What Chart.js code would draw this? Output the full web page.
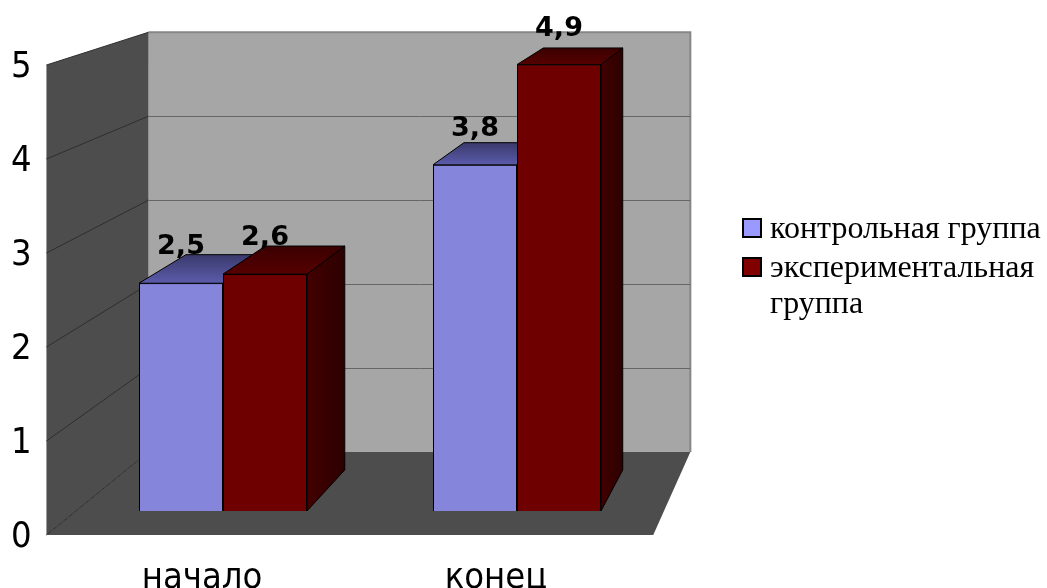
<!DOCTYPE html>
<html>
<head>
<meta charset="utf-8">
<script src="https://cdn.jsdelivr.net/npm/chart.js@4"></script>
<style>
  html, body { margin: 0; padding: 0; background: #fff; overflow: hidden; }
  canvas { display: block; }
</style>
</head>
<body>
<canvas id="scoreChart" width="1047" height="588"></canvas>
<script>
const categories = ['начало', 'конец'];
const controlGroup = [2.5, 3.8];
const experimentalGroup = [2.6, 4.9];
const seriesNames = ['контрольная группа', ['экспериментальная', 'группа']];
const yTicks = [0, 1, 2, 3, 4, 5];

// perspective box: everything shrinks toward VP as it goes deeper
const VP = { x: 1000, y: -241 };
const BAR_FRONT = 0.969;   // bar front faces vs. front edge of the floor
const BAR_DEPTH = 0.9455;  // bar back faces vs. bar front faces
const WALL_BACK = 0.893;   // back wall vs. front edge of the floor
const AREA = { top: 65, bottom: 535, left: 76, right: 664 };
const W = 1047, H = 588;
const LABEL_X = 11;

// the bars stand on a recessed plane, so their axis is a scaled copy of the front one
const yMax = yTicks[yTicks.length - 1];
const areaH = AREA.bottom - AREA.top;
const barMin = yMax * (1 - BAR_FRONT) * (VP.y - AREA.bottom) / (BAR_FRONT * areaH);
const barMax = barMin + yMax / BAR_FRONT;

const axisFont = { family: '"DejaVu Sans Condensed", "DejaVu Sans"', size: 36 };

const faceColors = [
    { top: ['#5b5bab', '#3a3a6c'], side: ['#50508e', '#393965'] },
    { top: ['#560000', '#3a0000'], side: ['#430000', '#2c0000'] }
];

function proj(x, y, s) {
    return { x: VP.x + (x - VP.x) * s, y: VP.y + (y - VP.y) * s };
}

function poly(ctx, pts) {
    ctx.beginPath();
    ctx.moveTo(pts[0].x, pts[0].y);
    for (let i = 1; i < pts.length; i++) ctx.lineTo(pts[i].x, pts[i].y);
    ctx.closePath();
}

const box3d = {
    id: 'box3d',
    beforeDatasetsDraw(chart) {
        const ctx = chart.ctx;
        const area = chart.chartArea;
        const y = chart.scales.y;
        const fl = VP.x + (area.left - VP.x) / BAR_FRONT;
        const fr = VP.x + (area.right - VP.x) / BAR_FRONT;
        const y0 = y.getPixelForValue(0);
        const yTop = y.getPixelForValue(yMax);

        ctx.save();
        // back wall
        const bTL = proj(fl, yTop, WALL_BACK);
        const bBR = proj(fr, y0, WALL_BACK);
        ctx.fillStyle = '#a6a6a6';
        ctx.fillRect(bTL.x, bTL.y, bBR.x - bTL.x, bBR.y - bTL.y);
        ctx.strokeStyle = '#868686';
        ctx.lineWidth = 2;
        ctx.beginPath();
        ctx.moveTo(bTL.x, bTL.y);
        ctx.lineTo(bBR.x, bTL.y);
        ctx.lineTo(bBR.x, bBR.y);
        ctx.stroke();

        // left wall and floor
        ctx.fillStyle = '#4d4d4d';
        poly(ctx, [{ x: fl, y: y0 }, { x: fl, y: yTop }, proj(fl, yTop, WALL_BACK), proj(fl, y0, WALL_BACK)]);
        ctx.fill();
        poly(ctx, [{ x: fl, y: y0 }, { x: fr, y: y0 }, proj(fr, y0, WALL_BACK), proj(fl, y0, WALL_BACK)]);
        ctx.fill();

        // gridlines
        ctx.lineWidth = 1;
        yTicks.forEach(v => {
            const py = y.getPixelForValue(v);
            const back = proj(fl, py, WALL_BACK);
            ctx.strokeStyle = '#2e2e2e';
            ctx.beginPath();
            ctx.moveTo(fl, py);
            ctx.lineTo(back.x, back.y);
            ctx.stroke();
            if (v > 0 && v < yMax) {
                const right = proj(fr, py, WALL_BACK);
                ctx.strokeStyle = '#666';
                ctx.beginPath();
                ctx.moveTo(back.x, Math.round(back.y) + 0.5);
                ctx.lineTo(right.x, Math.round(back.y) + 0.5);
                ctx.stroke();
            }
        });
        ctx.restore();
    },
    afterDatasetsDraw(chart) {
        const ctx = chart.ctx;
        // side and top faces, series by series so later bars cover earlier tops
        chart.data.datasets.forEach((ds, i) => {
            const colors = faceColors[i];
            chart.getDatasetMeta(i).data.forEach(bar => {
                bar.draw(ctx);
                const p = bar.getProps(['x', 'y', 'base', 'width'], true);
                const left = p.x - p.width / 2;
                const right = p.x + p.width / 2;
                const tl = proj(left, p.y, BAR_DEPTH);
                const tr = proj(right, p.y, BAR_DEPTH);
                const br = proj(right, p.base, BAR_DEPTH);

                ctx.save();
                ctx.strokeStyle = '#000';
                ctx.lineWidth = 1;
                let g = ctx.createLinearGradient(right, 0, tr.x, 0);
                g.addColorStop(0, colors.side[0]);
                g.addColorStop(1, colors.side[1]);
                ctx.fillStyle = g;
                poly(ctx, [{ x: right, y: p.y }, tr, br, { x: right, y: p.base }]);
                ctx.fill();
                ctx.stroke();

                g = ctx.createLinearGradient(0, p.y, 0, tl.y);
                g.addColorStop(0, colors.top[0]);
                g.addColorStop(1, colors.top[1]);
                ctx.fillStyle = g;
                poly(ctx, [{ x: left, y: p.y }, { x: right, y: p.y }, tr, tl]);
                ctx.fill();
                ctx.stroke();
                ctx.restore();
            });
        });

        // value labels
        ctx.save();
        ctx.fillStyle = '#000';
        ctx.font = 'bold 27px "DejaVu Sans"';
        ctx.textAlign = 'center';
        ctx.textBaseline = 'middle';
        chart.data.datasets.forEach((ds, i) => {
            chart.getDatasetMeta(i).data.forEach((bar, j) => {
                const text = String(ds.data[j]).replace('.', ',');
                ctx.fillText(text, bar.x, bar.y - 36);
            });
        });
        ctx.restore();
    },
    afterDraw(chart) {
        // legend, drawn by hand so the second name can wrap
        const ctx = chart.ctx;
        const swatches = ['#9999ff', '#800000'];
        const baselines = [[238], [277, 313]];
        ctx.save();
        ctx.font = '32px "Liberation Serif"';
        ctx.textBaseline = 'alphabetic';
        seriesNames.forEach((name, i) => {
            const lines = Array.isArray(name) ? name : [name];
            const by = baselines[i][0];
            ctx.fillStyle = swatches[i];
            ctx.fillRect(743, by - 19, 18, 18);
            ctx.strokeStyle = '#000';
            ctx.lineWidth = 2;
            ctx.strokeRect(743, by - 19, 18, 18);
            ctx.fillStyle = '#000';
            lines.forEach((line, k) => ctx.fillText(line, 770, baselines[i][k]));
        });
        ctx.restore();
    }
};

const ctx = document.getElementById('scoreChart').getContext('2d');
new Chart(ctx, {
    type: 'bar',
    data: {
        labels: categories,
        datasets: [{
            label: 'контрольная группа',
            data: controlGroup,
            backgroundColor: '#8585dc',
            borderColor: '#000',
            borderWidth: 1,
            yAxisID: 'yBars',
            clip: false
        }, {
            label: 'экспериментальная группа',
            data: experimentalGroup,
            backgroundColor: '#6e0000',
            borderColor: '#000',
            borderWidth: 1,
            yAxisID: 'yBars',
            clip: false
        }]
    },
    options: {
        responsive: false,
        devicePixelRatio: 1,
        animation: false,
        events: [],
        barPercentage: 1,
        categoryPercentage: 168 / 294,
        layout: {
            padding: { top: AREA.top, left: LABEL_X, right: W - AREA.right, bottom: 0 }
        },
        plugins: {
            legend: { display: false },
            tooltip: { enabled: false }
        },
        scales: {
            x: {
                grid: { display: false, drawTicks: false },
                border: { display: false },
                ticks: {
                    color: '#000',
                    font: axisFont,
                    labelOffset: -21,
                    padding: 22
                },
                afterFit: axis => { axis.height = H - AREA.bottom; }
            },
            y: {
                min: 0,
                max: yMax,
                grid: { display: false, drawTicks: false },
                border: { display: false },
                ticks: {
                    stepSize: 1,
                    color: '#000',
                    font: axisFont,
                    crossAlign: 'far',
                    labelOffset: 3,
                    padding: 0
                },
                afterFit: axis => { axis.width = AREA.left - LABEL_X; }
            },
            yBars: {
                display: false,
                min: barMin,
                max: barMax
            }
        }
    },
    plugins: [box3d]
});
</script>
</body>
</html>
